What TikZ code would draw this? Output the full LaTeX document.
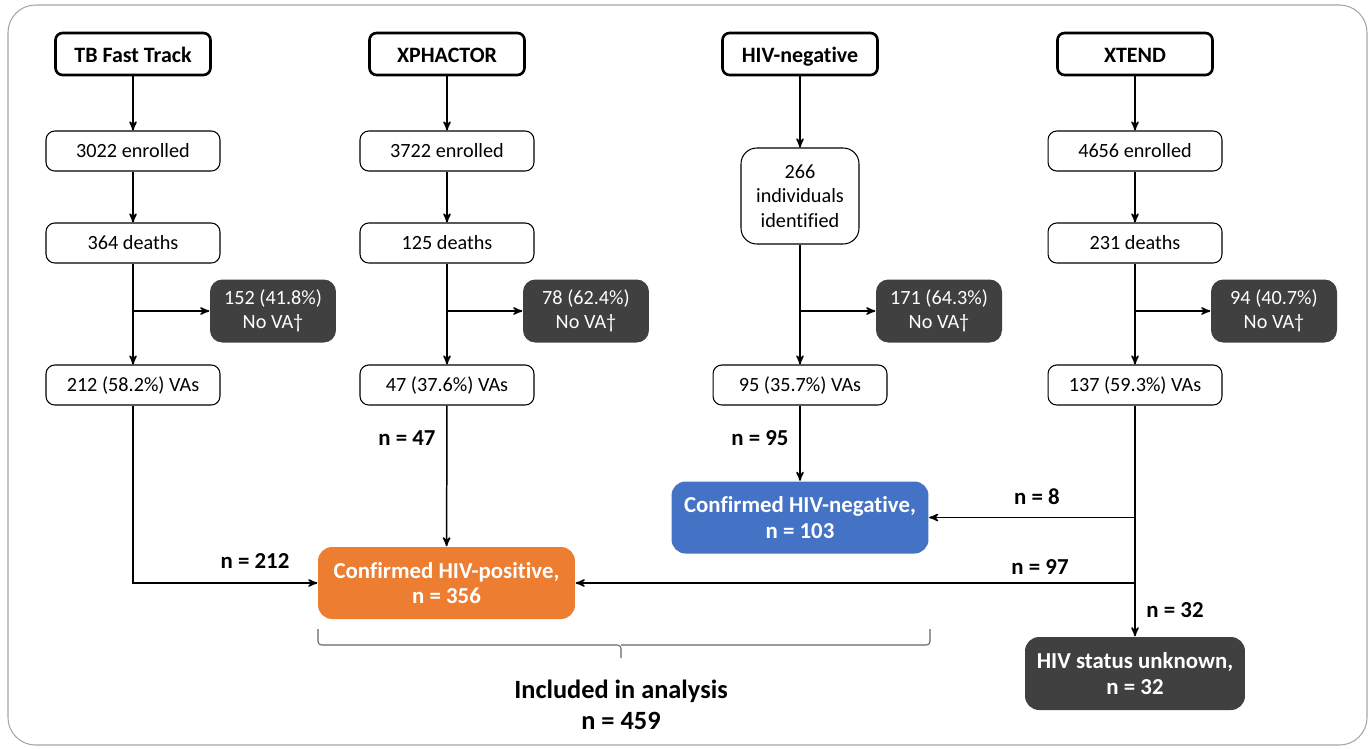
\documentclass[tikz,border=0pt]{standalone}
\usepackage{fontspec}
\setmainfont[Ligatures=NoCommon]{Carlito}
\usetikzlibrary{arrows, calc, positioning}

\definecolor{boxgrey}{HTML}{404040}
\definecolor{posorange}{HTML}{ED7D31}
\definecolor{negblue}{HTML}{4472C4}
\definecolor{framegrey}{HTML}{A6A6A6}

\tikzset{
  study/.style={draw, line width=1.5pt, rounded corners=4pt, minimum width=3.1cm, minimum height=0.84cm, text height=10pt, text depth=0pt, font=\fontsize{12.5}{15}\selectfont\bfseries},
  count/.style={draw, line width=0.6pt, rounded corners=5pt, minimum width=3.48cm, minimum height=0.8cm, align=center, font=\fontsize{11.5}{14}\selectfont},
  nova/.style={fill=boxgrey, text=white, rounded corners=7pt, minimum width=2.52cm, minimum height=1.26cm, align=center, font=\fontsize{11.5}{14}\selectfont},
  result/.style={text=white, rounded corners=8pt, minimum width=5.14cm, minimum height=1.44cm, align=center, font=\fontsize{13}{14.5}\selectfont\bfseries},
  nlab/.style={font=\fontsize{13}{15}\selectfont\bfseries},
}

\begin{document}
\begin{tikzpicture}[>=stealth', x=0.02cm, y=-0.02cm, line width=0.85pt]
        \useasboundingbox (0,0) rectangle (1372,748);
        % outer frame
        \draw[framegrey, line width=0.6pt, rounded corners=0.55cm] (8,5) rectangle (1367,745);

        % the four studies
        \node[study] (tb) at (133,54) {TB Fast Track};
        \node[study] (xp) at (447,54) {XPHACTOR};
        \node[study] (hn) at (800,54) {HIV-negative};
        \node[study] (xt) at (1135,54) {XTEND};

        \node[count] (tbenr) at (133,151) {3022 enrolled};
        \node[count] (xpenr) at (447,151) {3722 enrolled};
        \node[count, minimum width=2.36cm, minimum height=1.92cm, rounded corners=9pt] (hnid) at (800,196) {266\\individuals\\identified};
        \node[count] (xtenr) at (1135,151) {4656 enrolled};

        \node[count] (tbdeath) at (133,243) {364 deaths};
        \node[count] (xpdeath) at (447,243) {125 deaths};
        \node[count] (xtdeath) at (1135,243) {231 deaths};

        \node[nova] (tbnova) at (273,311) {152 (41.8\%)\\No VA†};
        \node[nova] (xpnova) at (586,311) {78 (62.4\%)\\No VA†};
        \node[nova] (hnnova) at (939,311) {171 (64.3\%)\\No VA†};
        \node[nova] (xtnova) at (1274,311) {94 (40.7\%)\\No VA†};

        \node[count] (tbva) at (133,385) {212 (58.2\%) VAs};
        \node[count] (xpva) at (447,385) {47 (37.6\%) VAs};
        \node[count] (hnva) at (800,385) {95 (35.7\%) VAs};
        \node[count] (xtva) at (1135,385) {137 (59.3\%) VAs};

        % outcomes
        \node[result, fill=negblue] (hivneg) at (800,517.5) {Confirmed HIV-negative,\\n = 103};
        \node[result, fill=posorange] (hivpos) at (446.5,583) {Confirmed HIV-positive,\\n = 356};
        \node[result, fill=boxgrey, minimum width=4.4cm, minimum height=1.46cm] (unk) at (1135,673.5) {HIV status unknown,\\n = 32};

        % arrows down the columns
        \draw[->] (tb) -- (tbenr);
        \draw[->] (tbenr) -- (tbdeath);
        \draw[->] (tbdeath) -- (tbva);
        \draw[->] (xp) -- (xpenr);
        \draw[->] (xpenr) -- (xpdeath);
        \draw[->] (xpdeath) -- (xpva);
        \draw[->] (hn) -- (hnid);
        \draw[->] (hnid) -- (hnva);
        \draw[->] (xt) -- (xtenr);
        \draw[->] (xtenr) -- (xtdeath);
        \draw[->] (xtdeath) -- (xtva);

        % no VA branches
        \coordinate (tbsplit) at (tbdeath |- tbnova);
        \coordinate (xpsplit) at (xpdeath |- xpnova);
        \coordinate (hnsplit) at (hnid |- hnnova);
        \coordinate (xtsplit) at (xtdeath |- xtnova);
        \draw[->] (tbsplit) -- (tbnova);
        \draw[->] (xpsplit) -- (xpnova);
        \draw[->] (hnsplit) -- (hnnova);
        \draw[->] (xtsplit) -- (xtnova);

        % into the outcomes
        \draw[->] (tbva) |- (hivpos);
        \draw[->] (xpva) -- (hivpos);
        \draw[->] (hnva) -- (hivneg);
        \coordinate (xtneg) at (xtva |- hivneg);
        \coordinate (xtpos) at (xtva |- hivpos);
        \draw[->] (xtva) -- (unk);
        \draw[->] (xtneg) -- (hivneg);
        \draw[->] (xtpos) -- (hivpos);

        \node[nlab] (n212) at (255,561) {n = 212};
        \node[nlab] (n47) at (407,438) {n = 47};
        \node[nlab] (n95) at (760,438) {n = 95};
        \node[nlab] (n8) at (1037,497) {n = 8};
        \node[nlab] (n97) at (1040,567) {n = 97};
        \node[nlab] (n32) at (1175,610) {n = 32};

        % brace and total
        \draw[boxgrey!80, line width=0.6pt, rounded corners=2pt] (318,629) |- (621,645) -- (621,658);
        \draw[boxgrey!80, line width=0.6pt, rounded corners=2pt] (930,629) |- (621,645);
        \node[align=center, font=\fontsize{15}{17.5}\selectfont\bfseries] (incl) at (621,705) {Included in analysis\\n = 459};
\end{tikzpicture}
\end{document}
